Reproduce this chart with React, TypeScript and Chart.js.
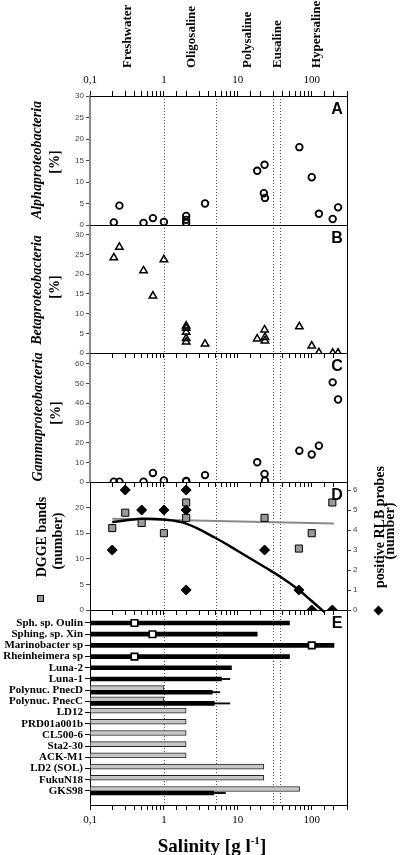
import React, { useEffect, useRef } from 'react';
import { Chart, registerables } from 'chart.js';

Chart.register(...registerables);

// ---------------- data ----------------
const salinityDecades = [0.1, 1, 10, 100];
const zoneBounds = [1, 5, 30, 37];
const zoneNames = ['Freshwater', 'Oligosaline', 'Polysaline', 'Eusaline', 'Hypersaline'];
const zoneLabelSalinity = [0.32, 2.4, 13.7, 34.5, 116];

const alphaSalinity = [0.21, 0.25, 0.53, 0.71, 1.0, 2.0, 2.0, 2.0, 3.6, 18.3, 23, 22.5, 23.3, 68, 100, 125, 192, 227];
const alphaPercent = [0.6, 4.5, 0.5, 1.6, 0.7, 2.1, 1.2, 0.5, 5.0, 12.6, 14.0, 7.4, 6.3, 18.1, 11.1, 2.6, 1.4, 4.1];
const alphaTicks = [0, 5, 10, 15, 20, 25, 30];

const betaSalinity = [0.21, 0.25, 0.53, 0.71, 1.0, 2, 2, 2, 2, 2, 3.6, 18.3, 23, 23.3, 23.3, 68, 100, 125, 192, 227];
const betaPercent = [24.2, 26.9, 20.9, 14.5, 23.7, 6.9, 6.3, 5.3, 3.7, 2.8, 2.3, 3.6, 5.9, 4.0, 3.1, 6.7, 1.8, 0.1, 0, 0];
const betaTicks = [0, 5, 10, 15, 20, 25, 30];

const gammaSalinity = [0.21, 0.25, 0.53, 0.71, 1.0, 2, 2, 3.6, 18.3, 23, 23.3, 68, 100, 125, 192, 227];
const gammaPercent = [0.15, 0.15, 0.2, 4.6, 0.8, 0.5, 0.3, 3.5, 10, 4.1, 0.7, 15.9, 14, 18.4, 50.6, 41.9];
const gammaTicks = [0, 10, 20, 30, 40, 50, 60];

const dggeSalinity = [0.2, 0.3, 0.5, 1.0, 2, 2, 23, 67, 100, 190];
const dggeBands = [16, 19, 17, 15, 21, 18, 18, 12, 15, 21];
const dggeTicks = [0, 5, 10, 15, 20];
const dggeTrendSalinity = [0.2, 200];
const dggeTrendBands = [17.8, 16.9];

const rlbSalinity = [0.2, 0.3, 0.5, 1.0, 2, 2, 2, 23, 67, 100, 190];
const rlbProbes = [3, 6, 5, 5, 6, 5, 1, 3, 1, 0, 0];
const rlbTicks = [0, 1, 2, 3, 4, 5, 6];
const rlbFitSalinity = [0.2, 0.5, 1, 2, 5, 10, 23, 40, 67, 100, 150];
const rlbFitProbes = [4.4, 4.56, 4.52, 4.32, 3.6, 2.95, 2.15, 1.6, 1.0, 0.45, -0.12];

const taxa = [
  'Sph. sp. Oulin', 'Sphing. sp. Xin', 'Marinobacter sp', 'Rheinheimera sp',
  'Luna-2', 'Luna-1', 'Polynuc. PnecD', 'Polynuc. PnecC',
  'LD12', 'PRD01a001b', 'CL500-6', 'Sta2-30', 'ACK-M1', 'LD2 (SOL)', 'FukuN18', 'GKS98',
];
const rangeEnvironment = [null, null, null, null, null, null, 1, 1, 2, 2, 2, 2, 2, 22.5, 22.5, 68.5];
const rangeIsolates = [50, 18.3, 200, 50, 8.2, 6.0, 4.5, 4.8, null, null, null, null, null, null, null, 4.7];
const rangeIsolatesMax = [null, null, null, null, null, 7.8, 5.7, 7.8, null, null, null, null, null, null, null, 6.8];
const optimumSalinity = [0.4, 0.7, 100, 0.4, null, null, null, null, null, null, null, null, null, null, null, null];

// ---------------- layout / style ----------------
const W = 400;
const H = 855;
const LEFT = 90;
const RIGHT = 347;
const SERIF = '"Liberation Serif", "Times New Roman", serif';
const SANS = '"Liberation Sans", Arial, sans-serif';

const pts = (xs: number[], ys: number[]) => xs.map((x, i) => ({ x, y: ys[i] }));
const fmtSal = (v: number) =>
  salinityDecades.some((d) => Math.abs(d - v) < 1e-9) ? String(v).replace('.', ',') : '';

const common = {
  responsive: false,
  animation: false,
  events: [],
  plugins: { legend: { display: false }, tooltip: { enabled: false } },
};

function xAxis(position: string, height: number, labels: boolean) {
  return {
    type: 'logarithmic',
    position,
    min: 0.1,
    max: 300,
    offset: false,
    afterFit: (s: any) => { s.height = height; },
    grid: { drawOnChartArea: false, drawTicks: true, tickLength: 5, color: '#000', lineWidth: 1, offset: false },
    border: { display: true, color: '#000', width: 1 },
    ticks: {
      autoSkip: false, maxRotation: 0, minRotation: 0, padding: 4, color: '#000',
      font: { family: SERIF, size: 11 },
      callback: (v: any) => (labels ? fmtSal(Number(v)) : ''),
    },
  };
}

function yAxis(min: number, max: number, tickVals: number[], opts: any = {}) {
  return {
    type: 'linear',
    position: opts.position || 'left',
    min,
    max,
    offset: false,
    afterFit: (s: any) => { s.width = opts.width || LEFT; },
    afterBuildTicks: (s: any) => { s.ticks = tickVals.map((v) => ({ value: v })); },
    grid: { drawOnChartArea: false, tickLength: 4, color: opts.tickColor || '#444', offset: false },
    border: { display: true, color: opts.borderColor || '#000', width: opts.borderWidth || 1 },
    ticks: { autoSkip: false, padding: 2, color: '#444', font: { family: SANS, size: 8 } },
  };
}

function decor(letter: string, extra?: (chart: any) => void) {
  return {
    id: 'decor',
    beforeDatasetsDraw(chart: any) {
      const { ctx, chartArea: a, scales } = chart;
      ctx.save();
      ctx.strokeStyle = '#555';
      ctx.lineWidth = 1;
      ctx.setLineDash([1, 2]);
      zoneBounds.forEach((v) => {
        const x = Math.round(scales.x.getPixelForValue(v)) + 0.5;
        ctx.beginPath();
        ctx.moveTo(x, a.top);
        ctx.lineTo(x, a.bottom);
        ctx.stroke();
      });
      ctx.restore();
    },
    afterDraw(chart: any) {
      const { ctx, chartArea: a } = chart;
      ctx.save();
      ctx.strokeStyle = '#000';
      ctx.lineWidth = 1;
      const t = Math.round(a.top) + 0.5;
      const b = Math.round(a.bottom) + 0.5;
      const r = Math.round(a.right) + 0.5;
      ctx.beginPath();
      ctx.moveTo(a.left, t);
      ctx.lineTo(r, t);
      ctx.lineTo(r, b);
      ctx.lineTo(a.left, b);
      ctx.stroke();
      ctx.fillStyle = '#000';
      ctx.font = `bold 16px ${SANS}`;
      ctx.textAlign = 'center';
      ctx.textBaseline = 'middle';
      ctx.fillText(letter, a.right - 10, a.top + 14);
      if (extra) extra(chart);
      ctx.restore();
    },
  };
}

const drawZoneNames = (chart: any) => {
  const { ctx, scales } = chart;
  ctx.font = `bold 13px ${SERIF}`;
  ctx.fillStyle = '#000';
  ctx.textAlign = 'left';
  ctx.textBaseline = 'middle';
  zoneNames.forEach((name, i) => {
    const x = scales.x.getPixelForValue(zoneLabelSalinity[i]);
    ctx.save();
    ctx.translate(x, 68);
    ctx.rotate(-Math.PI / 2);
    ctx.fillText(name, 0, 0);
    ctx.restore();
  });
};

const circle = {
  pointStyle: 'circle', pointRadius: 3.3, pointBorderWidth: 1.8,
  pointBorderColor: '#000', pointBackgroundColor: 'rgba(0,0,0,0)',
};
const triangle = {
  pointStyle: 'triangle', pointRadius: 4.3, pointBorderWidth: 1.5,
  pointBorderColor: '#000', pointBackgroundColor: 'rgba(0,0,0,0)',
};

const pad = (top: number, bottom: number, right = W - RIGHT) => ({ padding: { left: 0, right, top, bottom } });

const configA = () => ({
  type: 'scatter',
  data: { datasets: [{ data: pts(alphaSalinity, alphaPercent), ...circle }] },
  options: {
    ...common,
    layout: pad(0, H - 225),
    scales: { x: xAxis('top', 96, true), y: yAxis(0, 30, alphaTicks, { borderColor: '#888', borderWidth: 2 }) },
  },
  plugins: [decor('A', drawZoneNames)],
});

const configB = () => ({
  type: 'scatter',
  data: { datasets: [{ data: pts(betaSalinity, betaPercent), ...triangle }] },
  options: {
    ...common,
    layout: pad(225, H - 353 - 10),
    scales: { x: xAxis('bottom', 10, false), y: yAxis(0, 32.5, betaTicks, { borderColor: '#888', borderWidth: 2 }) },
  },
  plugins: [decor('B')],
});

const configC = () => ({
  type: 'scatter',
  data: { datasets: [{ data: pts(gammaSalinity, gammaPercent), ...circle }] },
  options: {
    ...common,
    layout: pad(353, H - 482 - 10),
    scales: { x: xAxis('bottom', 10, false), y: yAxis(0, 65.5, gammaTicks, { borderColor: '#888', borderWidth: 2 }) },
  },
  plugins: [decor('C')],
});

const configD = () => ({
  type: 'scatter',
  data: {
    datasets: [
      {
        data: pts(rlbSalinity, rlbProbes), yAxisID: 'y1',
        pointStyle: 'rectRot', pointRadius: 5, pointBorderWidth: 1,
        pointBorderColor: '#000', pointBackgroundColor: '#000',
      },
      {
        data: pts(dggeSalinity, dggeBands), yAxisID: 'y',
        pointStyle: 'rect', pointRadius: 5, pointBorderWidth: 1,
        pointBorderColor: '#000', pointBackgroundColor: '#9a9a9a',
      },
      {
        data: pts(rlbFitSalinity, rlbFitProbes), yAxisID: 'y1', showLine: true,
        borderColor: '#000', borderWidth: 2.5, pointRadius: 0, tension: 0.4, clip: false,
      },
      {
        data: pts(dggeTrendSalinity, dggeTrendBands), yAxisID: 'y', showLine: true,
        borderColor: '#8a8a8a', borderWidth: 2, pointRadius: 0,
      },
    ],
  },
  options: {
    ...common,
    layout: pad(482, H - 610 - 10, 0),
    scales: {
      x: xAxis('bottom', 10, false),
      y: yAxis(0, 25, dggeTicks, { tickColor: '#444' }),
      y1: yAxis(0, 6.4, rlbTicks, { position: 'right', width: W - RIGHT }),
    },
  },
  plugins: [decor('D')],
});

const configE = () => {
  const blackY = (i: number) => i + (rangeEnvironment[i] == null ? 0 : 0.18);
  const grayData: any[] = [];
  const blackData: any[] = [];
  const errData: any[] = [];
  const optData: any[] = [];
  taxa.forEach((_, i) => {
    if (rangeEnvironment[i] != null) grayData.push({ x: [0.1, rangeEnvironment[i]], y: i - 0.18 });
    if (rangeIsolates[i] != null) blackData.push({ x: [0.1, rangeIsolates[i]], y: blackY(i) });
    if (rangeIsolatesMax[i] != null) errData.push({ x: [rangeIsolates[i], rangeIsolatesMax[i]], y: blackY(i) });
    if (optimumSalinity[i] != null) optData.push({ x: optimumSalinity[i], y: blackY(i) });
  });
  return {
    type: 'scatter',
    data: {
      datasets: [
        {
          type: 'scatter', data: optData, pointStyle: 'rect', pointRadius: 4.6, pointBorderWidth: 1.6,
          pointBorderColor: '#000', pointBackgroundColor: '#fff',
        },
        { type: 'bar', indexAxis: 'y', data: errData, barThickness: 1.2, backgroundColor: '#000', grouped: false, borderSkipped: false },
        { type: 'bar', indexAxis: 'y', data: blackData, barThickness: 4, backgroundColor: '#000', grouped: false, borderSkipped: false },
        {
          type: 'bar', indexAxis: 'y', data: grayData, barThickness: 5, backgroundColor: '#c6c6c6',
          borderColor: '#222', borderWidth: 1, grouped: false, borderSkipped: false,
        },
      ],
    },
    options: {
      ...common,
      layout: pad(610, 20),
      scales: {
        x: { ...xAxis('bottom', 30, true), beginAtZero: false },
        y: {
          type: 'linear', position: 'left', min: -1.16, max: 16.25, reverse: true, offset: false,
          afterFit: (s: any) => { s.width = LEFT; },
          afterBuildTicks: (s: any) => { s.ticks = taxa.map((_, i) => ({ value: i })); },
          grid: { drawOnChartArea: false, tickLength: 5, color: '#000', offset: false },
          border: { display: true, color: '#000', width: 1 },
          ticks: {
            autoSkip: false, padding: 2, color: '#000',
            font: { family: SERIF, size: 11, weight: 'bold' },
            callback: (v: any) => taxa[Number(v)] ?? '',
          },
        },
      },
    },
    plugins: [decor('E')],
  };
};

function ChartCanvas({ make }: { make: () => any }) {
  const ref = useRef<HTMLCanvasElement | null>(null);
  useEffect(() => {
    const chart = new Chart(ref.current as HTMLCanvasElement, make() as any);
    return () => chart.destroy();
  }, []);
  return (
    <canvas
      ref={ref}
      width={W}
      height={H}
      style={{ position: 'absolute', left: 0, top: 0, width: W, height: H }}
    />
  );
}

function Rot({ x, y, children, italic = false, size = 14 }: any) {
  return (
    <div
      style={{
        position: 'absolute', left: x, top: y,
        transform: 'translate(-50%, -50%) rotate(-90deg)',
        whiteSpace: 'nowrap', lineHeight: 1,
        fontFamily: SERIF, fontWeight: 'bold', fontStyle: italic ? 'italic' : 'normal',
        fontSize: size, color: '#000',
      }}
    >
      {children}
    </div>
  );
}

export default function App() {
  return (
    <div style={{ position: 'absolute', left: 0, top: 0, width: W, height: H, background: '#fff', overflow: 'hidden' }}>
      <ChartCanvas make={configA} />
      <ChartCanvas make={configB} />
      <ChartCanvas make={configC} />
      <ChartCanvas make={configD} />
      <ChartCanvas make={configE} />

      <Rot x={37} y={160} italic>Alphaproteobacteria</Rot>
      <Rot x={55} y={162}>[%]</Rot>
      <Rot x={37} y={290} italic>Betaproteobacteria</Rot>
      <Rot x={55} y={287}>[%]</Rot>
      <Rot x={38} y={417} italic>Gammaproteobacteria</Rot>
      <Rot x={56} y={413}>[%]</Rot>
      <Rot x={42} y={537}>DGGE bands</Rot>
      <Rot x={58} y={541}>(number)</Rot>
      <Rot x={380} y={527}>positive RLB probes</Rot>
      <Rot x={390} y={531}>(number)</Rot>

      <div
        style={{
          position: 'absolute', left: 36.5, top: 594.5, width: 7, height: 7,
          background: '#9a9a9a', border: '1px solid #000', boxSizing: 'border-box',
        }}
      />
      <div
        style={{
          position: 'absolute', left: 374.5, top: 606.5, width: 7, height: 7,
          background: '#000', transform: 'rotate(45deg)',
        }}
      />

      <div
        style={{
          position: 'absolute', left: 212, top: 845, transform: 'translate(-50%, -50%)',
          whiteSpace: 'nowrap', lineHeight: 1, fontFamily: SERIF, fontWeight: 'bold', fontSize: 19, color: '#000',
        }}
      >
        Salinity [g l<span style={{ fontSize: 11, position: 'relative', top: -8 }}>-1</span>]
      </div>
    </div>
  );
}
